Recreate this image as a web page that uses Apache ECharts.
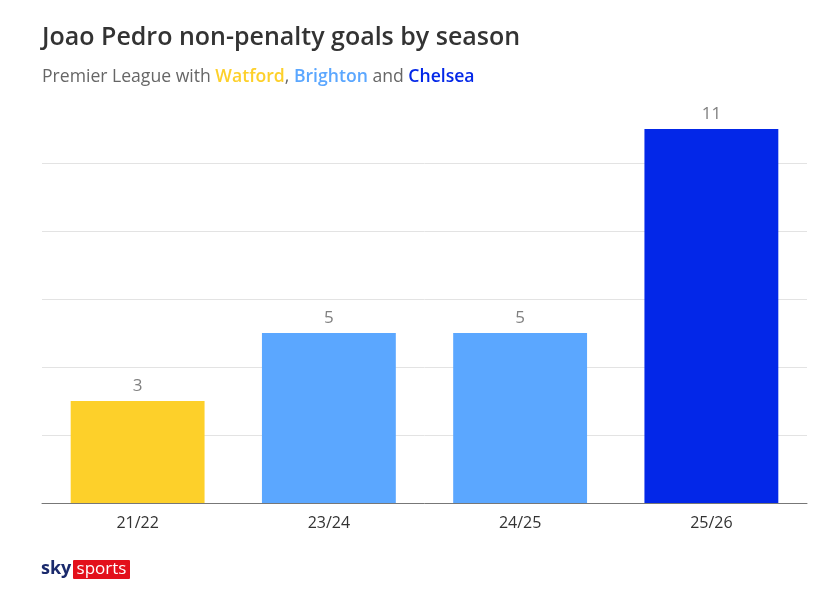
<!DOCTYPE html>
<html><head><meta charset="utf-8">
<script src="https://cdn.jsdelivr.net/npm/echarts@6/dist/echarts.min.js"></script>
<style>html,body{margin:0;padding:0;background:#fff}#c{width:833px;height:596px}</style>
</head><body><div id="c"></div>
<script>
const seasons = ['21/22', '23/24', '24/25', '25/26'];
const goals = [3, 5, 5, 11];
const barColors = ['#FDD02A', '#5BA7FF', '#5BA7FF', '#0327E8'];
const FONT = '"Open Sans", "Noto Sans", sans-serif';
const chart = echarts.init(document.getElementById('c'));
chart.setOption({
  backgroundColor: '#fff',
  animation: false,
  title: {
    text: 'Joao Pedro non-penalty goals by season',
    left: 37, top: 20,
    textStyle: { fontFamily: FONT, fontSize: 25, fontWeight: 600, color: '#333' },
    subtext: '{g|Premier League with }{w|Watford}{g|, }{b|Brighton}{g| and }{c|Chelsea}',
    itemGap: 18,
    subtextStyle: {
      fontFamily: FONT, fontSize: 17.6,
      rich: {
        g: { fontFamily: FONT, fontSize: 17.6, color: '#666' },
        w: { fontFamily: FONT, fontSize: 17.6, color: '#FDD02A', fontWeight: 600 },
        b: { fontFamily: FONT, fontSize: 17.6, color: '#5BA7FF', fontWeight: 600 },
        c: { fontFamily: FONT, fontSize: 17.6, color: '#0327E8', fontWeight: 600 }
      }
    }
  },
  grid: { left: 42, right: 26, top: 129, bottom: 93, containLabel: false },
  xAxis: {
    type: 'category', data: seasons,
    axisLine: { lineStyle: { color: '#777', width: 1 } },
    axisTick: { show: false },
    axisLabel: { fontFamily: FONT, fontSize: 16, color: '#333', margin: 12 }
  },
  yAxis: {
    type: 'value', min: 0, max: 11, interval: 2,
    axisLabel: { show: false }, axisLine: { show: false }, axisTick: { show: false },
    splitLine: { lineStyle: { color: ['#e3e3e3', '#e3e3e3', '#e3e3e3', '#e3e3e3', '#e3e3e3', '#e3e3e3', 'rgba(0,0,0,0)'], width: 1 } }
  },
  series: [{
    type: 'bar',
    barWidth: '70%',
    data: goals.map((v, i) => ({ value: v, itemStyle: { color: barColors[i] } })),
    label: { show: true, position: 'top', distance: 6, fontFamily: FONT, fontSize: 17, color: '#808080' }
  }],
  graphic: [
    { type: 'text', x: 41, y: 569, style: { text: 'sky', fontFamily: FONT, fontSize: 18, fontWeight: 'bold', fill: '#1a2a6c', verticalAlign: 'middle' } },
    { type: 'rect', shape: { x: 73, y: 560, width: 57, height: 19, r: 1 }, style: { fill: '#e3101b' } },
    { type: 'text', x: 101.5, y: 569, style: { text: 'sports', fontFamily: FONT, fontSize: 17, fill: '#fff', align: 'center', verticalAlign: 'middle' } }
  ]
});
</script></body></html>
